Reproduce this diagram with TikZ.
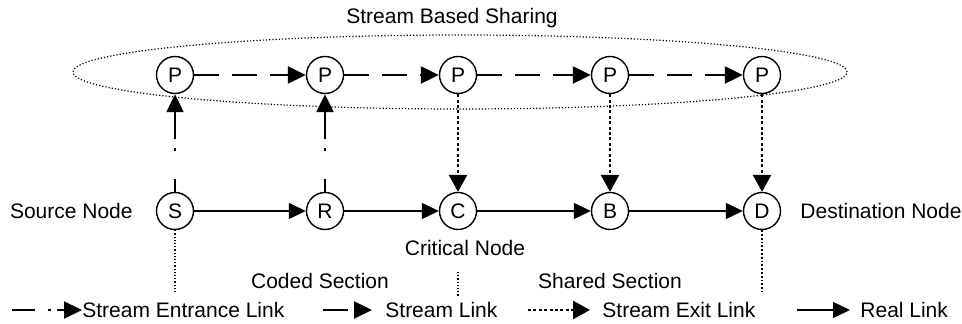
\documentclass[tikz,border=0pt]{standalone}
\usepackage{fontspec}
\setmainfont{Liberation Sans}
\usetikzlibrary{arrows.meta}

\tikzset{
  peer/.style={circle,draw,line width=0.7pt,fill=white,minimum size=18.5pt,inner sep=0pt,font=\fontsize{10.5}{12}\selectfont},
  txt/.style={inner sep=0pt,font=\fontsize{10.5}{12}\selectfont},
  realink/.style={line width=0.7pt,-{Triangle[length=8.5pt,width=8pt]}},
  streamlink/.style={line width=1.1pt,dash pattern=on 12.5pt off 6.5pt,-{Triangle[length=9pt,width=8.5pt]}},
  exitlink/.style={line width=1.4pt,dash pattern=on 1.5pt off 1.2pt,-{Triangle[length=8.5pt,width=9pt]}},
  entrylink/.style={line width=1.1pt,dash pattern=on 6.5pt off 14pt on 1.2pt off 4.5pt on 40pt off 1pt,-{Triangle[length=9pt,width=8.5pt]}},
  guide/.style={densely dotted,line width=0.6pt}
}

\begin{document}
\begin{tikzpicture}[x=0.5pt,y=-0.5pt]
\useasboundingbox (0,0) rectangle (962,324);

% Sharing area
\draw[guide] (460,72) ellipse [x radius=193.5pt, y radius=18.5pt];
\node[txt] (title) at (452,18) {Stream Based Sharing};

% Stream nodes and real nodes
\foreach \n/\x in {1/175,2/325,3/458,4/610,5/762}
    \node[peer] (p\n) at (\x,75) {P};
\foreach \n/\t/\x in {s/S/175,r/R/325,c/C/458,b/B/610,d/D/762}
    \node[peer] (\n) at (\x,211) {\t};

% Links
\foreach \a/\b in {p1/p2,p2/p3,p3/p4,p4/p5}
    \draw[streamlink] (\a) -- (\b);
\foreach \a/\b in {s/r,r/c,c/b,b/d}
    \draw[realink] (\a) -- (\b);
\draw[entrylink] (s) -- (p1);
\draw[entrylink] (r) -- (p2);
\foreach \a/\b in {p3/c,p4/b,p5/d}
    \draw[exitlink] (\a) -- (\b);

% Node names and sections
\node[txt,anchor=east] (srcName) at (133,211) {Source Node};
\node[txt,anchor=west] (dstName) at (800,211) {Destination Node};
\node[txt] (critName) at (465,248) {Critical Node};
\node[txt] (coded) at (320,281) {Coded Section};
\node[txt] (shared) at (610,281) {Shared Section};

\coordinate (sEnd) at (175,292);
\coordinate (dEnd) at (762,292);
\coordinate (cTop) at (458,272);
\coordinate (cEnd) at (458,296);
\draw[guide] (s) -- (sEnd);
\draw[guide,line width=0.9pt] (d) -- (dEnd);
\draw[guide] (cTop) -- (cEnd);

% Legend
\node[txt,anchor=west] (lgEntry) at (82,310) {Stream Entrance Link};
\node[txt,anchor=west] (lgStream) at (385,310) {Stream Link};
\node[txt,anchor=west] (lgExit) at (602,310) {Stream Exit Link};
\node[txt,anchor=west] (lgReal) at (860,310) {Real Link};
\coordinate (lgEntryA) at (12,310);
\coordinate (lgStreamA) at (323,310);
\coordinate (lgStreamB) at (372,310);
\coordinate (lgExitA) at (528,310);
\coordinate (lgExitB) at (590,310);
\coordinate (lgRealA) at (797,310);
\coordinate (lgRealB) at (850,310);
\draw[entrylink,dash pattern=on 11.5pt off 6.5pt on 1.5pt off 3pt on 20pt off 1pt] (lgEntryA) -- (lgEntry.west);
\draw[streamlink] (lgStreamA) -- (lgStreamB);
\draw[exitlink] (lgExitA) -- (lgExitB);
\draw[realink] (lgRealA) -- (lgRealB);

\end{tikzpicture}
\end{document}
